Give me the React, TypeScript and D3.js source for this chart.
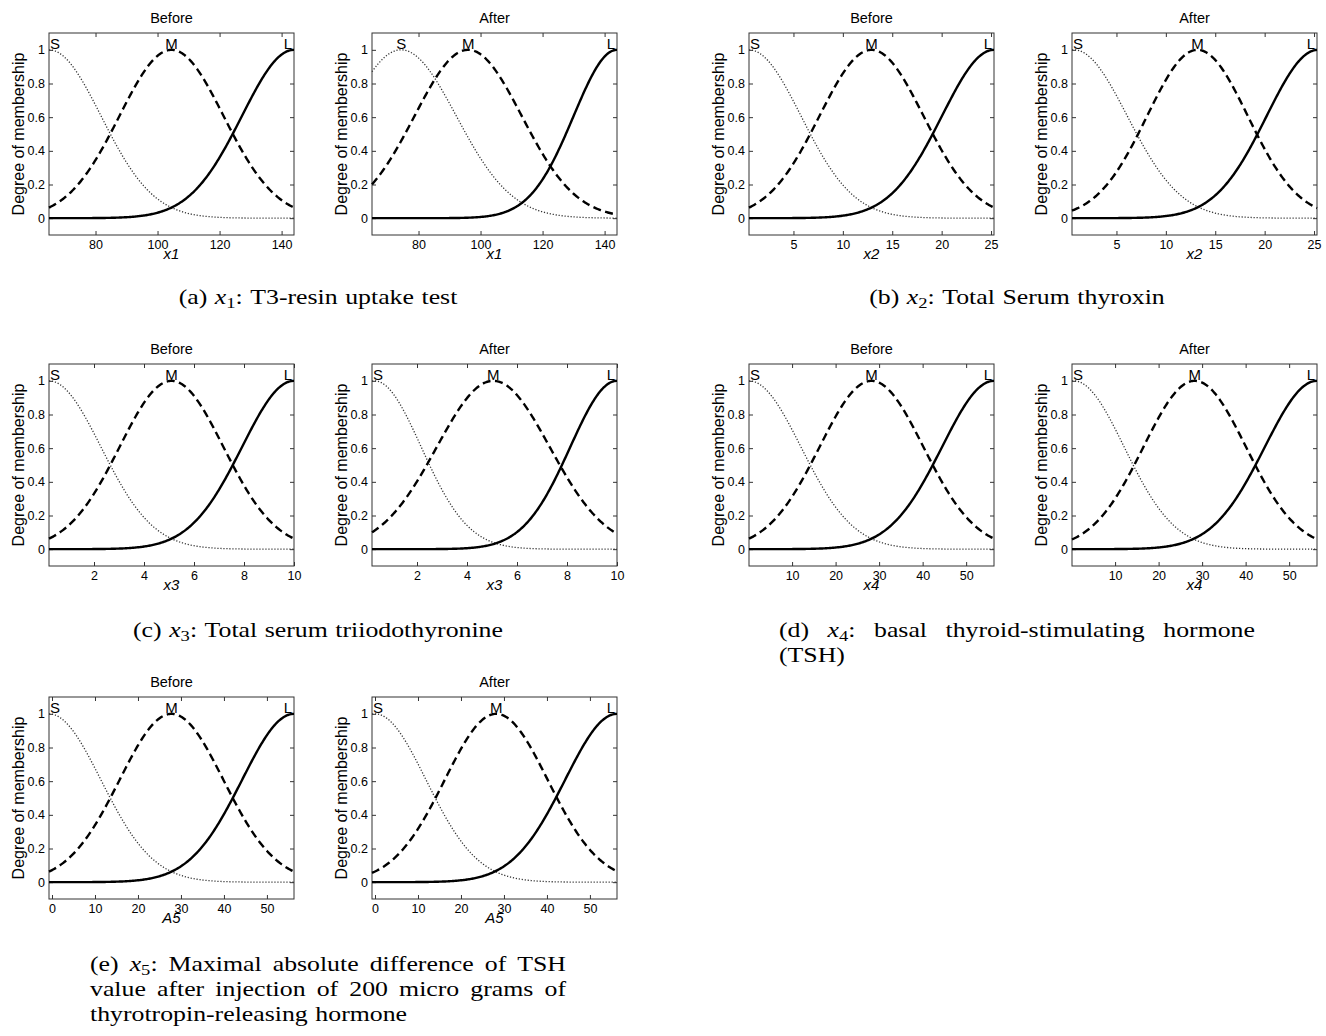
import React, { useRef, useEffect } from "react";
import * as d3 from "d3";

// one input variable per figure part (a)..(e)
const variableNames = ["x1", "x2", "x3", "x4", "A5"];
const xDomains: [number, number][] = [
  [65, 144],
  [0.5, 25.3],
  [0.2, 10],
  [0.1, 56.4],
  [-0.7, 56.3],
];
const xTickValues = [
  [80, 100, 120, 140],
  [5, 10, 15, 20, 25],
  [2, 4, 6, 8, 10],
  [10, 20, 30, 40, 50],
  [0, 10, 20, 30, 40, 50],
];
const yTickValues = [0, 0.2, 0.4, 0.6, 0.8, 1];
const mfLabels = ["S", "M", "L"];

// gaussian membership functions [S, M, L]: centre and width
const beforeCenters = [
  [65, 104.5, 144],
  [0.5, 12.9, 25.3],
  [0.2, 5.1, 10],
  [0.1, 28.25, 56.4],
  [-0.7, 27.8, 56.3],
];
const beforeSigmas = [
  [16.8, 16.8, 16.8],
  [5.27, 5.27, 5.27],
  [2.08, 2.08, 2.08],
  [11.95, 11.95, 11.95],
  [12.1, 12.1, 12.1],
];
const afterCenters = [
  [74.4, 96, 144],
  [0.7, 13.2, 25.4],
  [0.3, 5.05, 10],
  [0.5, 28.3, 56.4],
  [0, 28.2, 56.3],
];
const afterSigmas = [
  [17.8, 17.3, 14],
  [5.4, 5.1, 5.2],
  [1.87, 2.26, 1.87],
  [11.6, 11.8, 12.0],
  [11.9, 12.0, 12.1],
];

const captionTexts = [
  ["(a) x_1: T3-resin uptake test"],
  ["(b) x_2: Total Serum thyroxin"],
  ["(c) x_3: Total serum triiodothyronine"],
  ["(d) x_4: basal thyroid-stimulating hormone", "(TSH)"],
  [
    "(e) x_5: Maximal absolute difference of TSH",
    "value after injection of 200 micro grams of",
    "thyrotropin-releasing hormone",
  ],
];

// layout
const AX_W = 245;
const AX_H = 202;
const rowTops = [33, 364, 697];
const colLefts = [49, 749];
const AFTER_SHIFT = 323;
const panelRow = [0, 0, 1, 1, 2];
const panelCol = [0, 1, 0, 1, 0];
const captionPos = [
  { x: 318, y: 304, align: "center", w: 0 },
  { x: 1017, y: 304, align: "center", w: 0 },
  { x: 318, y: 637, align: "center", w: 0 },
  { x: 779, y: 637, align: "justify", w: 476 },
  { x: 90, y: 971, align: "justify", w: 476 },
];
const LINE_H = 24.8;

const SANS = "'Liberation Sans', Arial, Helvetica, sans-serif";
const SERIF = "'Liberation Serif', 'Times New Roman', serif";
const CAP_SIZE = 21.5;
const CAP_SX = 1.2; // computer-modern is wider than times

const lineStyles = [
  { dash: "1.2 1.8", width: 1.3, color: "#333" },
  { dash: "8 4.5", width: 2.4, color: "#000" },
  { dash: null, width: 2.4, color: "#000" },
];

const gauss = (v: number, c: number, s: number) =>
  Math.exp(-((v - c) * (v - c)) / (2 * s * s));

const App = () => {
  const svgRef = useRef<SVGSVGElement>(null);

  useEffect(() => {
    const svg = d3.select(svgRef.current);
    svg.selectAll("*").remove();

    const drawPanel = (
      vi: number,
      left: number,
      top: number,
      title: string,
      centers: number[],
      sigmas: number[],
    ) => {
      const g = svg.append("g");
      const x = d3.scaleLinear().domain(xDomains[vi]).range([left, left + AX_W]);
      const y = d3.scaleLinear().domain([-0.1, 1.1]).range([top + AX_H, top]);

      const styleAxis = (a: any) => {
        a.attr("font-size", 12.5).attr("font-family", SANS).attr("color", "#333");
        a.select(".domain").remove();
        a.selectAll("text").attr("fill", "#000");
      };

      g.append("g")
        .attr("transform", `translate(0,${top + AX_H})`)
        .call(
          d3
            .axisBottom(x)
            .tickValues(xTickValues[vi])
            .tickSizeInner(-4)
            .tickSizeOuter(0)
            .tickPadding(5)
            .tickFormat(d3.format("d")),
        )
        .call(styleAxis);
      g.append("g")
        .attr("transform", `translate(0,${top})`)
        .call(
          d3.axisTop(x).tickValues(xTickValues[vi]).tickSizeInner(-4).tickSizeOuter(0).tickFormat(() => ""),
        )
        .call(styleAxis);
      g.append("g")
        .attr("transform", `translate(${left},0)`)
        .call(
          d3
            .axisLeft(y)
            .tickValues(yTickValues)
            .tickSizeInner(-4)
            .tickSizeOuter(0)
            .tickPadding(4)
            .tickFormat((d: any) => String(d)),
        )
        .call(styleAxis);
      g.append("g")
        .attr("transform", `translate(${left + AX_W},0)`)
        .call(d3.axisRight(y).tickValues(yTickValues).tickSizeInner(-4).tickSizeOuter(0).tickFormat(() => ""))
        .call(styleAxis);

      g.append("rect")
        .attr("x", left)
        .attr("y", top)
        .attr("width", AX_W)
        .attr("height", AX_H)
        .attr("fill", "none")
        .attr("stroke", "#333")
        .attr("stroke-width", 1);

      // membership curves
      const [lo, hi] = xDomains[vi];
      const xs = d3.range(0, 241).map((i) => lo + ((hi - lo) * i) / 240);
      centers.forEach((c, k) => {
        const line = d3
          .line<number>()
          .x((v) => x(v))
          .y((v) => y(gauss(v, c, sigmas[k])));
        const st = lineStyles[k];
        g.append("path")
          .attr("d", line(xs))
          .attr("fill", "none")
          .attr("stroke", st.color)
          .attr("stroke-width", st.width)
          .attr("stroke-dasharray", st.dash);
      });

      // S / M / L labels at each centre, kept inside the box
      centers.forEach((c, k) => {
        const cx = x(Math.max(lo, Math.min(hi, c)));
        const t = g
          .append("text")
          .attr("x", cx)
          .attr("y", y(1) - 1)
          .attr("text-anchor", "middle")
          .attr("font-family", SANS)
          .attr("font-size", 15)
          .text(mfLabels[k]);
        const w = (t.node() as SVGTextElement).getComputedTextLength();
        if (cx - w / 2 < left + 1) t.attr("x", left + 1 + w / 2);
        if (cx + w / 2 > left + AX_W - 2) t.attr("x", left + AX_W - 2 - w / 2);
      });

      g.append("text")
        .attr("x", left + AX_W / 2)
        .attr("y", top - 10)
        .attr("text-anchor", "middle")
        .attr("font-family", SANS)
        .attr("font-size", 14.5)
        .text(title);

      g.append("text")
        .attr("transform", `translate(${left - 31},${top + AX_H / 2}) rotate(-90)`)
        .attr("text-anchor", "middle")
        .attr("dominant-baseline", "central")
        .attr("font-family", SANS)
        .attr("font-size", 16)
        .text("Degree of membership");

      g.append("text")
        .attr("x", left + AX_W / 2)
        .attr("y", top + AX_H + 24)
        .attr("text-anchor", "middle")
        .attr("font-family", SANS)
        .attr("font-style", "italic")
        .attr("font-size", 15)
        .text(variableNames[vi]);
    };

    variableNames.forEach((_, vi) => {
      const top = rowTops[panelRow[vi]];
      const left = colLefts[panelCol[vi]];
      drawPanel(vi, left, top, "Before", beforeCenters[vi], beforeSigmas[vi]);
      drawPanel(vi, left + AFTER_SHIFT, top, "After", afterCenters[vi], afterSigmas[vi]);
    });

    // captions, set word by word so the paragraph lines can be justified
    const cap = svg.append("g").attr("font-family", SERIF).attr("font-size", CAP_SIZE).attr("fill", "#000");
    const drawWord = (word: string) => {
      const t = cap.append("text").attr("x", 0).attr("y", 0);
      const m = word.match(/^x_(\d)(.*)$/);
      if (m) {
        t.append("tspan").attr("font-style", "italic").text("x");
        t.append("tspan").attr("font-size", CAP_SIZE * 0.72).attr("dy", 4).text(m[1]);
        t.append("tspan").attr("dy", -4).text(m[2]);
      } else {
        t.text(word);
      }
      return { t, w: (t.node() as SVGTextElement).getComputedTextLength() * CAP_SX };
    };
    const space = CAP_SIZE * 0.35;

    captionTexts.forEach((lines, ci) => {
      const pos = captionPos[ci];
      lines.forEach((line, li) => {
        const y = pos.y + li * LINE_H;
        const words = line.split(" ").map((wd) => drawWord(wd));
        const total = d3.sum(words, (d) => d.w);
        let gap = space;
        let start = pos.x;
        if (pos.align === "center") {
          start = pos.x - (total + space * (words.length - 1)) / 2;
        } else if (li < lines.length - 1 && words.length > 1) {
          gap = (pos.w - total) / (words.length - 1);
        }
        let cur = start;
        words.forEach((d) => {
          d.t.attr("transform", `translate(${cur},${y}) scale(${CAP_SX},1)`);
          cur += d.w + gap;
        });
      });
    });
  }, []);

  return (
    <svg
      ref={svgRef}
      width={1326}
      height={1036}
      style={{ position: "absolute", left: 0, top: 0, background: "#fff" }}
    />
  );
};

export default App;
